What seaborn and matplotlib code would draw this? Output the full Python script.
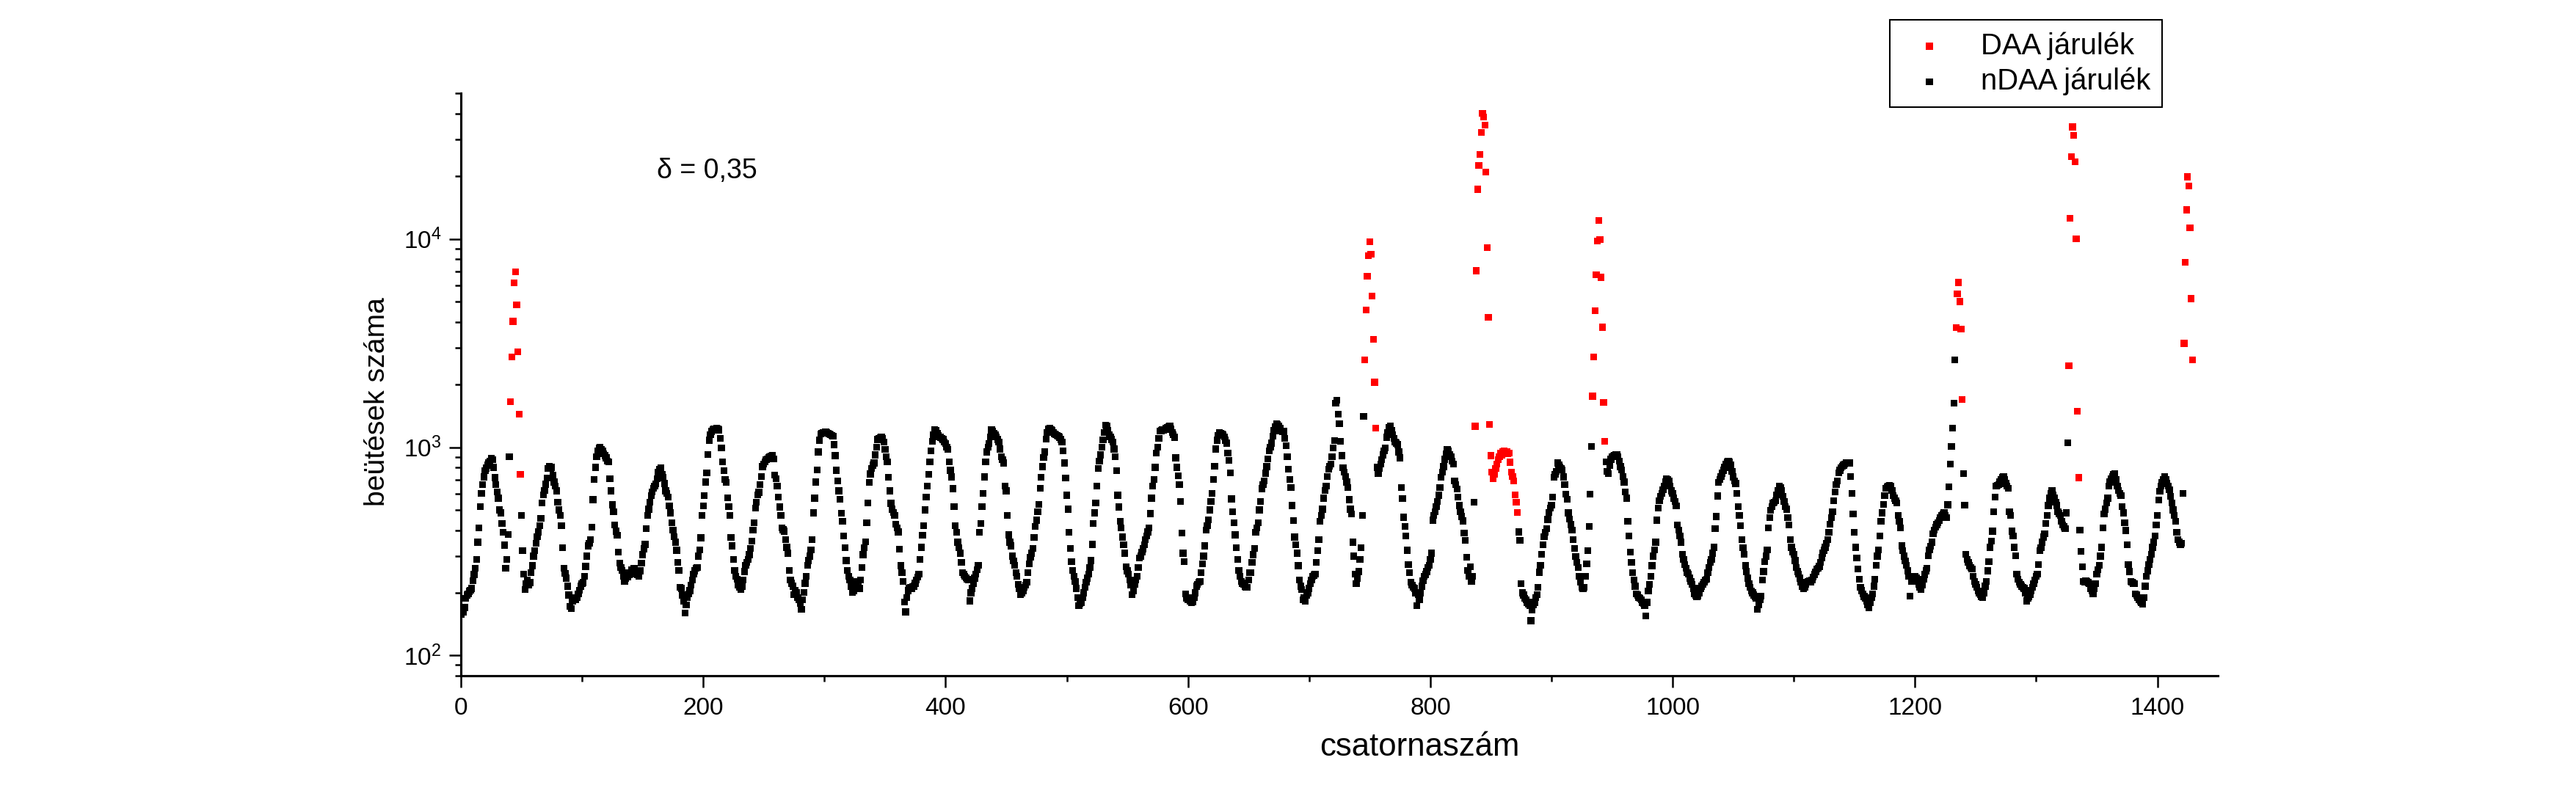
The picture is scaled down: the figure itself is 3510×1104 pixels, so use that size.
import numpy as np
import pandas as pd
import matplotlib
matplotlib.use("Agg")
import matplotlib.pyplot as plt
import seaborn as sns
from matplotlib.ticker import LogLocator, MultipleLocator, NullFormatter

# ---------------- data (channel -> counts) ----------------
# nDAA (black) segments; first channel of each segment
nd_starts = [0, 50, 756, 873, 945, 1240, 1336]

nd_a = [158, 165, 162, 170, 188, 195, 198, 203, 206, 210, 228, 245, 262, 290, 350, 410, 520, 600, 660, 720,
        770, 795, 820, 840, 860, 885, 870, 800, 715, 660, 610, 570, 500, 484, 430, 390, 339, 263, 290, 381, 900]

nd_b = [
    # 50-101
    471, 318, 246, 207, 221, 230, 218, 224, 250, 270, 300, 318, 345, 372, 392, 420, 455, 540, 590, 620,
    665, 712, 790, 810, 795, 800, 735, 680, 650, 617, 545, 500, 470, 420, 330, 262, 248, 235, 215, 195,
    172, 168, 182, 186, 190, 185, 190, 198, 206, 215, 221, 224,
    # 102-147
    240, 268, 300, 336, 345, 360, 414, 560, 700, 800, 900, 960, 990, 1000, 975, 960, 930, 912, 890, 860,
    853, 706, 617, 530, 490, 423, 395, 379, 314, 278, 265, 256, 240, 227, 235, 250, 238, 245, 246, 258,
    250, 262, 248, 256, 245, 240,
    # 148-196
    255, 278, 305, 325, 342, 406, 471, 504, 546, 585, 610, 634, 650, 668, 706, 760, 786, 795, 740, 715,
    670, 617, 600, 577, 524, 484, 434, 400, 372, 350, 320, 280, 256, 212, 210, 195, 183, 160, 175, 190,
    198, 205, 218, 230, 246, 255, 263, 265, 300,
    # 197-231
    322, 367, 471, 524, 585, 680, 755, 925, 1080, 1150, 1190, 1210, 1225, 1215, 1230, 1220, 1210, 1100, 990, 853,
    772, 700, 678, 572, 520, 471, 369, 336, 290, 256, 240, 232, 218, 212, 207,
    # 232-283
    215, 230, 253, 271, 280, 290, 305, 327, 355, 400, 434, 510, 545, 590, 608, 660, 725, 808, 830, 853,
    870, 880, 895, 900, 905, 912, 880, 735, 706, 650, 577, 517, 470, 411, 402, 395, 360, 331, 310, 256,
    231, 222, 215, 196, 205, 200, 190, 185, 178, 167, 185, 201,
    # 284-330
    222, 240, 271, 286, 300, 322, 360, 484, 570, 681, 780, 950, 1080, 1160, 1170, 1175, 1180, 1185, 1175, 1170,
    1160, 1150, 1140, 1130, 1030, 912, 776, 688, 617, 561, 481, 440, 374, 330, 286, 256, 240, 231, 215, 201,
    205, 215, 227, 222, 215, 210, 230,
    # 331-381
    265, 305, 330, 352, 434, 539, 678, 745, 790, 820, 841, 920, 1000, 1090, 1100, 1110, 1115, 1100, 1060, 975,
    900, 853, 716, 617, 538, 504, 485, 471, 428, 410, 392, 324, 270, 250, 227, 181, 162, 190, 205, 210,
    212, 210, 214, 215, 222, 230, 238, 246, 290, 331, 379,
    # 382-427
    420, 500, 577, 650, 740, 850, 960, 1070, 1150, 1210, 1200, 1170, 1140, 1120, 1115, 1100, 1090, 1060, 1040, 1000,
    975, 850, 776, 720, 633, 520, 420, 390, 350, 330, 310, 280, 250, 245, 240, 236, 232, 231, 183, 200,
    210, 222, 235, 246, 258, 271,
    # 428-473
    390, 430, 520, 600, 720, 850, 950, 1000, 1040, 1120, 1210, 1190, 1170, 1150, 1120, 1090, 1060, 980, 900, 870,
    841, 650, 617, 471, 380, 350, 336, 300, 285, 271, 250, 240, 220, 210, 196, 200, 205, 212, 218, 225,
    250, 275, 297, 310, 327, 369,
    # 474-521
    417, 446, 490, 532, 637, 716, 808, 895, 950, 1093, 1180, 1225, 1230, 1215, 1200, 1180, 1160, 1150, 1140, 1130,
    1115, 1090, 1060, 960, 841, 710, 588, 504, 390, 327, 282, 256, 240, 227, 210, 190, 174, 178, 180, 190,
    200, 212, 225, 235, 246, 265, 286, 342,
    # 522-568
    431, 484, 540, 650, 790, 860, 920, 1000, 1087, 1180, 1278, 1260, 1200, 1150, 1120, 1090, 1060, 980, 900, 770,
    588, 517, 440, 410, 370, 340, 310, 267, 255, 246, 230, 218, 196, 205, 220, 230, 240, 265, 294, 300,
    314, 325, 340, 360, 375, 392, 411,
    # 569-615
    480, 570, 650, 700, 800, 940, 1000, 1100, 1195, 1200, 1210, 1205, 1215, 1230, 1240, 1250, 1260, 1220, 1180, 1150,
    1115, 890, 800, 730, 660, 550, 387, 310, 282, 198, 188, 185, 190, 183, 180, 181, 190, 200, 215, 220,
    225, 227, 250, 275, 300, 336, 400,
    # 616-656
    420, 448, 500, 550, 600, 700, 812, 980, 1080, 1140, 1180, 1170, 1160, 1150, 1120, 1080, 1045, 937, 864, 755,
    565, 490, 434, 380, 330, 290, 256, 240, 227, 222, 220, 215, 212, 212, 230, 250, 250, 280, 305, 327,
    390,
    # 657-699
    410, 434, 500, 550, 633, 660, 688, 750, 808, 880, 963, 1000, 1045, 1130, 1200, 1250, 1295, 1280, 1260, 1230,
    1195, 1190, 1190, 1100, 1015, 900, 786, 700, 642, 525, 445, 370, 340, 310, 270, 231, 215, 207, 185, 190,
    183, 195, 200,
    # 700-745
    210, 221, 230, 240, 243, 246, 280, 318, 360, 440, 470, 504, 570, 620, 650, 725, 786, 810, 830, 900,
    995, 1079, 1630, 1680, 1440, 1296, 1070, 912, 797, 760, 725, 680, 640, 560, 504, 477, 350, 300, 246, 221,
    235, 253, 290, 330, 471, 1404,
]

nd_c = [
    # 756-801
    800, 746, 790, 830, 870, 920, 960, 990, 1117, 1180, 1243, 1260, 1200, 1150, 1100, 1060, 1045, 1030, 950, 890,
    642, 566, 461, 417, 375, 320, 274, 250, 225, 218, 212, 210, 200, 174, 196, 185, 200, 215, 228, 240,
    245, 253, 265, 271, 290, 310,
    # 802-836
    446, 470, 490, 520, 550, 588, 642, 716, 760, 808, 876, 930, 975, 960, 925, 900, 860, 830, 690, 660,
    630, 577, 525, 490, 465, 443, 387, 357, 297, 256, 240, 266, 227, 240, 546,
]

nd_d = [
    # 873-933
    392, 358, 221, 200, 195, 188, 185, 180, 176, 174, 147, 165, 175, 180, 190, 196, 212, 251, 271, 307,
    340, 371, 390, 406, 450, 487, 510, 528, 577, 716, 740, 766, 841, 820, 800, 790, 780, 720, 660, 597,
    561, 484, 452, 425, 401, 360, 326, 299, 280, 264, 240, 225, 212, 210, 212, 240, 275, 318, 417, 597,
    1008,
]

nd_e = [
    # 945-1046
    850, 765, 746, 820, 876, 900, 910, 915, 920, 925, 900, 860, 808, 780, 725, 680, 609, 569, 440, 374,
    314, 280, 250, 231, 215, 198, 195, 190, 188, 185, 180, 178, 174, 155, 180, 204, 220, 240, 270, 300,
    322, 350, 446, 510, 553, 580, 600, 625, 650, 680, 706, 700, 690, 650, 617, 600, 570, 550, 524, 423,
    400, 374, 350, 306, 290, 274, 262, 250, 246, 235, 227, 220, 210, 198, 195, 192, 193, 200, 210, 215,
    220, 225, 230, 233, 250, 265, 280, 290, 310, 331, 406, 465, 584, 678, 700, 725, 750, 776, 800, 830,
    853, 860,
    # 1047-1090
    850, 820, 765, 720, 690, 669, 600, 518, 471, 420, 360, 330, 306, 270, 253, 235, 221, 212, 204, 200,
    195, 192, 188, 167, 175, 185, 193, 230, 253, 282, 300, 322, 411, 459, 497, 520, 539, 545, 553, 590,
    620, 651, 640, 617,
    # 1091-1170
    580, 550, 520, 504, 460, 423, 360, 331, 315, 306, 286, 265, 253, 246, 235, 225, 215, 210, 212, 220,
    225, 227, 228, 226, 230, 238, 245, 252, 260, 262, 268, 280, 295, 310, 320, 331, 345, 360, 390, 428,
    460, 490, 553, 610, 660, 688, 755, 775, 797, 810, 820, 830, 841, 845, 843, 841, 725, 600, 477, 390,
    331, 294, 260, 233, 212, 205, 198, 192, 188, 183, 175, 169, 180, 190, 198, 215, 233, 271, 300, 322,
    # 1171-1233
    374, 440, 484, 532, 585, 634, 645, 651, 655, 651, 620, 585, 570, 555, 539, 470, 440, 411, 336, 318,
    300, 285, 271, 255, 240, 193, 227, 232, 236, 240, 235, 227, 220, 212, 207, 218, 233, 245, 255, 263,
    302, 322, 335, 350, 385, 400, 414, 425, 434, 445, 459, 470, 478, 484, 470, 459, 529, 646, 832, 1007,
    1233, 1630, 2625,
]

nd_f = [
    # 1240-1326
    746, 526, 306, 290, 280, 270, 265, 260, 240, 227, 220, 212, 204, 200, 196, 192, 190, 200, 215, 227,
    255, 282, 331, 355, 395, 490, 577, 651, 655, 660, 680, 700, 715, 725, 700, 670, 650, 634, 490, 471,
    395, 374, 331, 302, 246, 233, 225, 220, 215, 212, 210, 200, 183, 188, 192, 196, 205, 212, 221, 230,
    240, 246, 274, 318, 330, 350, 370, 385, 430, 471, 525, 570, 600, 617, 590, 570, 545, 525, 490, 480,
    471, 440, 423, 415, 406, 484, 1052,
]

nd_g = [
    # 1336-1421
    400, 316, 267, 227, 225, 228, 227, 224, 221, 210, 205, 198, 210, 221, 246, 258, 271, 300, 331, 411,
    477, 504, 540, 570, 651, 680, 706, 720, 740, 745, 700, 651, 620, 600, 585, 520, 484, 434, 398, 340,
    274, 253, 227, 225, 222, 221, 198, 195, 190, 186, 182, 180, 176, 190, 215, 240, 255, 274, 290, 306,
    331, 350, 374, 423, 471, 557, 614, 650, 678, 700, 725, 700, 670, 651, 625, 580, 539, 500, 471, 440,
    390, 360, 350, 340, 346, 600,
]

# DAA (red) peaks; first channel of each peak
daa_starts = [41, 746, 837, 934, 1234, 1327, 1422]
daa_1 = [1650, 2720, 4020, 6170, 6950, 4830, 2870, 1443, 743]
daa_2 = [2630, 4560, 6640, 8300, 9710, 8430, 5330, 3300, 2050, 1234]
daa_3 = [1260, 7030, 17300, 22600, 25400, 32400, 40000, 38500, 35200, 21000, 9080, 4210, 1285,
         912, 760, 706, 740, 790, 830, 870, 900, 937, 920, 950, 963, 940, 955, 930, 937, 848, 760,
         725, 688, 592, 546, 487]
daa_4 = [1760, 2720, 4520, 6730, 9790, 12300, 9910, 6540, 3770, 1640, 1070]
daa_5 = [3760, 5450, 6180, 5010, 3690, 1700]
daa_6 = [2460, 12600, 24900, 34500, 31500, 23500, 10000, 1490, 714]
daa_7 = [3150, 7740, 13800, 19900, 18000, 11300, 5170, 2620]

label_daa = "DAA járulék"
label_ndaa = "nDAA járulék"
x_label = "csatornaszám"
y_label = "beütések száma"
note = "δ = 0,35"


def build(starts, segs):
    xs, ys = [], []
    for s, seg in zip(starts, segs):
        xs.extend(range(s, s + len(seg)))
        ys.extend(seg)
    return pd.DataFrame({"ch": xs, "counts": ys})


df_nd = build(nd_starts, [nd_a, nd_b, nd_c, nd_d, nd_e, nd_f, nd_g])
df_daa = build(daa_starts, [daa_1, daa_2, daa_3, daa_4, daa_5, daa_6, daa_7])

# ---------------- style ----------------
sns.set_theme(style="ticks")
plt.rcParams["font.family"] = ["Liberation Sans", "DejaVu Sans"]
plt.rcParams["mathtext.fontset"] = "custom"
plt.rcParams["mathtext.rm"] = "Liberation Sans"
plt.rcParams["mathtext.it"] = "Liberation Sans:italic"
plt.rcParams["mathtext.bf"] = "Liberation Sans:bold"
plt.rcParams["axes.edgecolor"] = "black"
plt.rcParams["xtick.color"] = "black"
plt.rcParams["ytick.color"] = "black"
plt.rcParams["text.color"] = "black"
plt.rcParams["axes.labelcolor"] = "black"

fig = plt.figure(figsize=(11.7, 3.68), dpi=300)
ax = fig.add_axes([0.1789, 0.1658, 0.6821, 0.7189])

sns.scatterplot(data=df_nd, x="ch", y="counts", color="black", marker="s", s=5.0,
                linewidth=0, edgecolor="none", label=label_ndaa, ax=ax, zorder=3)
sns.scatterplot(data=df_daa, x="ch", y="counts", color="#ff0000", marker="s", s=5.0,
                linewidth=0, edgecolor="none", label=label_daa, ax=ax, zorder=4)

ax.set_yscale("log")
ax.set_xlim(0, 1450)
ax.set_ylim(80, 50000)

ax.xaxis.set_major_locator(MultipleLocator(200))
ax.xaxis.set_minor_locator(MultipleLocator(100))
ax.yaxis.set_major_locator(LogLocator(base=10, numticks=10))
ax.yaxis.set_minor_locator(LogLocator(base=10, subs=np.arange(2, 10), numticks=20))
ax.yaxis.set_minor_formatter(NullFormatter())

ax.tick_params(which="major", direction="out", length=3.9, width=0.6, labelsize=8, pad=2.5)
ax.tick_params(axis="x", which="major", pad=3.0)
ax.tick_params(which="minor", direction="out", length=1.9, width=0.6)

sns.despine(ax=ax)
for side in ("left", "bottom"):
    ax.spines[side].set_linewidth(0.75)
    ax.spines[side].set_color("black")

ax.set_xlabel(x_label, fontsize=10.5)
ax.xaxis.set_label_coords(0.5455, -0.097)
ax.set_ylabel(y_label, fontsize=9.4)
ax.yaxis.set_label_coords(-0.040, 0.47)

ax.text(162, 21200, note, fontsize=9, ha="left", va="center")

handles, labels = ax.get_legend_handles_labels()
order = [labels.index(label_daa), labels.index(label_ndaa)]
leg = ax.legend([handles[i] for i in order], [labels[i] for i in order],
                loc="upper left", bbox_to_anchor=(0.7336, 0.9755), bbox_transform=fig.transFigure,
                fontsize=9.6, frameon=True, fancybox=False, framealpha=1, edgecolor="black",
                borderpad=0.4, handlelength=1.9, handletextpad=0.8, labelspacing=0.25,
                borderaxespad=0.0, markerscale=1.0)
leg.get_frame().set_linewidth(0.5)

fig.savefig("out.png", dpi=300, facecolor="white")
